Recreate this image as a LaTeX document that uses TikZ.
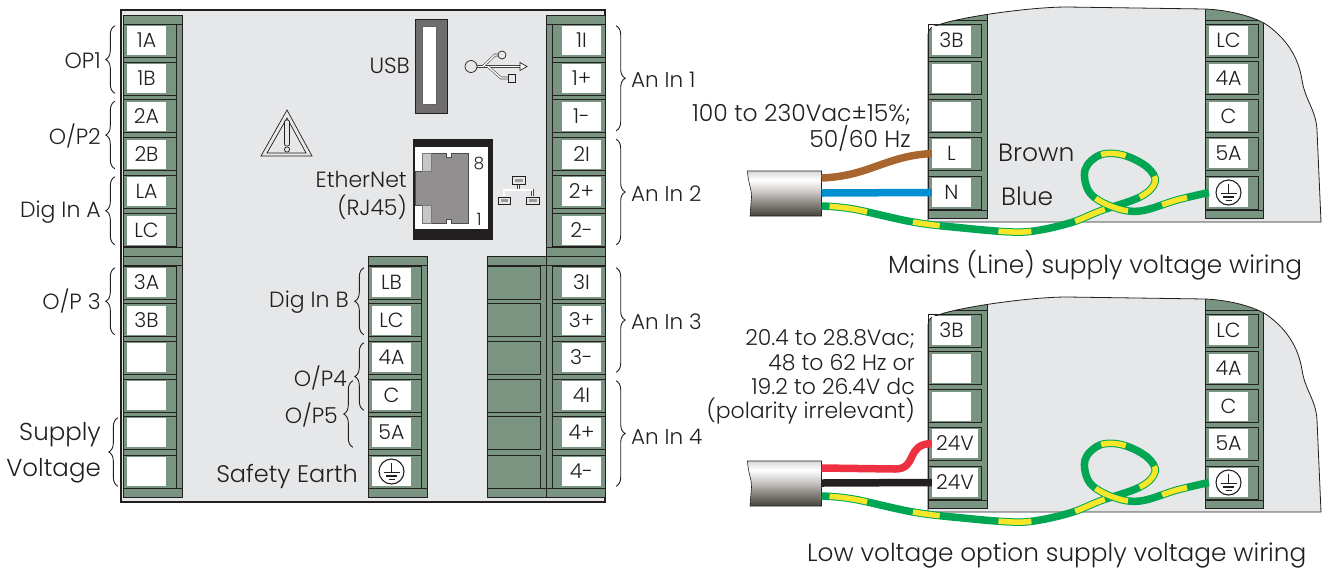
\documentclass[tikz,border=0pt]{standalone}
\usepackage{fontspec}
\setmainfont{Poppins}[UprightFont=* Light]
\usepackage{xcolor}
\usetikzlibrary{decorations.pathreplacing}

\definecolor{ink}{HTML}{231F20}
\definecolor{panelgray}{HTML}{E6E7E8}
\definecolor{stripgreen}{HTML}{7A9482}
\definecolor{wiregreen}{HTML}{00A651}
\definecolor{wireyellow}{HTML}{F7E62A}
\definecolor{wirebrown}{HTML}{A8652E}
\definecolor{wireblue}{HTML}{0090D2}
\definecolor{wirered}{HTML}{EE3142}
\pgfdeclareverticalshading{sheathshade}{100bp}{rgb(0bp)=(.27,.26,.23); rgb(25bp)=(.27,.26,.23); rgb(40bp)=(.55,.54,.51); rgb(52bp)=(.8,.79,.78); rgb(65bp)=(1,1,1); rgb(75bp)=(.85,.85,.85); rgb(100bp)=(.85,.85,.85)}

\tikzset{
  stripbar/.style={draw=ink,fill=stripgreen,line width=.8pt},
  cellbox/.style={draw=ink,line width=.8pt,minimum width=53pt,minimum height=33pt,inner sep=0pt},
  termlabel/.style={fill=white,text=ink,minimum width=39pt,minimum height=29pt,inner sep=0pt,text height=14.5pt,text depth=0pt,font=\fontsize{20.5}{24}\selectfont},
  sidelabel/.style={anchor=east,text=ink,inner sep=0pt,align=right,font=\fontsize{22}{25}\selectfont},
  anlabel/.style={anchor=west,text=ink,inner sep=0pt,font=\fontsize{21.5}{24}\selectfont},
  captionlabel/.style={anchor=west,text=ink,inner sep=0pt,font=\fontsize{24.8}{28}\selectfont},
  bracel/.style={draw=ink,line width=.9pt,decorate,decoration={brace,amplitude=9pt}},
  wire/.style={line width=7.5pt},
  earthwire/.style={draw=wiregreen,line width=7.5pt,postaction={draw=wireyellow,line width=5.5pt,dash pattern=on 0pt off 8pt on 38pt off 47pt on 27pt off 59pt on 33pt off 45pt on 32pt off 37pt on 28pt off 36pt on 25pt off 55pt on 35pt off 35pt on 26pt off 200pt}},
  iconline/.style={draw=ink!85,line width=.6pt,double=white,double distance=1.4pt},
  earthmark/.pic={
    \draw[ink,line width=1.1pt] (0,0) circle (12.5);
    \draw[ink,line width=1.1pt] (0,-9) -- (0,1);
    \draw[ink,line width=1.1pt] (-8,1) -- (8,1);
    \draw[ink,line width=1.1pt] (-5.5,4.5) -- (5.5,4.5);
    \draw[ink,line width=1.1pt] (-3,8) -- (3,8);
  }
}

\newcommand{\termstrip}[3]{%
  \draw[stripbar] (#1,#2) rectangle ({#1+59},{#2+241});
  \draw[stripbar] (#1,#2) rectangle ({#1+59},{#2+9});
  \draw[stripbar] (#1,{#2+232}) rectangle ({#1+59},{#2+241});
  \draw[ink,line width=.8pt] (#3,{#2+9}) -- (#3,{#2+232});
}
\newcommand{\leftcell}[4]{%
  \node[cellbox] (#1box) at ({#2+26.5},#3) {};
  \node[termlabel] (#1) at ({#2+23.5},#3) {#4};
}
\newcommand{\rightcell}[4]{%
  \node[cellbox] (#1box) at ({#2+32.5},#3) {};
  \node[termlabel] (#1) at ({#2+35.5},#3) {#4};
}
\newcommand{\panelshape}{(928,222) -- (928,35) .. controls (928,29) and (932,26) .. (938,25) .. controls (960,17) and (1030,7) .. (1067,7) -- (1205,9) .. controls (1230,10) and (1255,17) .. (1267,25) .. controls (1285,38) and (1298,55) .. (1302,80) .. controls (1305,100) and (1316,110) .. (1317,130) -- (1321,222) -- cycle}
\newcommand{\supplypanel}{%
  \fill[panelgray] \panelshape;
  \begin{scope}
    \clip \panelshape;
    \draw[stripbar] (928,0) rectangle (987,218);
    \draw[stripbar] (928,210) rectangle (987,218);
    \draw[stripbar] (1205,0) rectangle (1263,218);
    \draw[stripbar] (1205,210) rectangle (1263,218);
    \draw[ink,line width=.8pt] (928,20) -- (987,20);
    \draw[ink,line width=.8pt] (1205,20) -- (1263,20);
  \end{scope}
  \draw[ink,line width=.8pt] \panelshape;
  \leftcell{t3B}{928}{40.5}{3B}
  \leftcell{tblank1}{928}{78}{}
  \leftcell{tblank2}{928}{116}{}
  \leftcell{tLC}{1205}{40.5}{LC}
  \leftcell{t4A}{1205}{78}{4A}
  \leftcell{tC}{1205}{116}{C}
  \leftcell{t5A}{1205}{153.5}{5A}
  \leftcell{tearth}{1205}{192.5}{}
  \pic at (tearth) {earthmark};
}
\newcommand{\cablesheath}{%
  \shade[shading=sheathshade,draw=ink,line width=.6pt] (747.5,171) .. controls (748,183) and (752,190) .. (751.5,197) -- (750,216) -- (821.5,216) -- (821.5,171) -- cycle;
  \coordinate (cabletop) at (821.5,178);
  \coordinate (cablemid) at (821.5,193);
  \coordinate (cableearth) at (821.5,206);
}
\newcommand{\earthrun}{%
  \draw[earthwire] plot[smooth,tension=.6] coordinates {(cableearth) (853,209) (913,222) (963,228) (1013,232) (1040,230) (1073,222) (1100,211) (1140,197) (1155,182) (1147,167) (1123,155) (1100,155) (1085,170) (1090,193) (1113,207) (1140,211) (1177,200) (tearth.west)};
}

\begin{document}
\begin{tikzpicture}[x=1pt,y=-1pt]
  \useasboundingbox (0,0) rectangle (1327,574);

  % main unit
  \draw[fill=panelgray,draw=ink,line width=1.2pt] (121,10) rectangle (605,502);
  \termstrip{123}{15}{176}
  \termstrip{123}{256}{176}
  \termstrip{368}{256}{421.7}
  \termstrip{487}{256}{546}
  \termstrip{546}{256}{552}
  \termstrip{546}{15}{552}

  \leftcell{t1A}{123}{40.5}{1A}
  \leftcell{t1B}{123}{78.5}{1B}
  \leftcell{t2A}{123}{116}{2A}
  \leftcell{t2B}{123}{154}{2B}
  \leftcell{tLA}{123}{191.5}{LA}
  \leftcell{tLCa}{123}{230}{LC}

  \leftcell{t3A}{123}{282.5}{3A}
  \leftcell{t3B}{123}{320}{3B}
  \leftcell{tsup1}{123}{357.5}{}
  \leftcell{tsup2}{123}{395.5}{}
  \leftcell{tsup3}{123}{432.5}{}
  \leftcell{tsup4}{123}{471.5}{}

  \leftcell{tLB}{368}{282.5}{LB}
  \leftcell{tLCb}{368}{320}{LC}
  \leftcell{t4A}{368}{357.5}{4A}
  \leftcell{tC}{368}{395.5}{C}
  \leftcell{t5A}{368}{432.5}{5A}
  \leftcell{tsafe}{368}{471.5}{}
  \pic at (tsafe) {earthmark};

  \node[cellbox] (dummy1) at (514,282.5) {};
  \node[cellbox] (dummy2) at (514,320) {};
  \node[cellbox] (dummy3) at (514,357.5) {};
  \node[cellbox] (dummy4) at (514,395.5) {};
  \node[cellbox] (dummy5) at (514,432.5) {};
  \node[cellbox] (dummy6) at (514,471.5) {};

  \rightcell{t1I}{546}{40.5}{1I}
  \rightcell{t1p}{546}{78.5}{1+}
  \rightcell{t1m}{546}{116}{1-}
  \rightcell{t2I}{546}{154}{2I}
  \rightcell{t2p}{546}{191.5}{2+}
  \rightcell{t2m}{546}{230}{2-}
  \rightcell{t3I}{546}{282.5}{3I}
  \rightcell{t3p}{546}{320}{3+}
  \rightcell{t3m}{546}{357.5}{3-}
  \rightcell{t4I}{546}{395.5}{4I}
  \rightcell{t4p}{546}{432.5}{4+}
  \rightcell{t4m}{546}{471.5}{4-}

  % usb socket and icon
  \draw[fill=ink!65,draw=ink,line width=.8pt] (415,19) rectangle (447,113);
  \draw[fill=white,draw=ink!70] (422,26) rectangle (436,104);
  \draw[iconline] (477,66.5) -- (520,66.5);
  \draw[iconline] (483,66.5) -- (495,55) -- (498,55);
  \draw[iconline] (488,66.5) -- (501,78) -- (508,78);
  \draw[ink,line width=.7pt] (471,66.5) circle (6);
  \draw[ink,line width=.7pt] (502,55) circle (4);
  \draw[ink,line width=.7pt] (508,74.5) rectangle (515,82);
  \draw[ink,line width=.7pt,fill=white] (520,62.5) -- (527,66.5) -- (520,70.5) -- cycle;

  % ethernet socket and icon
  \fill[ink] (413,139) rectangle (493,240);
  \fill[white] (415,147) rectangle (488,229);
  \draw[fill=ink!50,draw=ink!80,line width=.6pt] (431,153) -- (446,153) -- (446,157) -- (451,157) -- (451,153) -- (468,153) -- (468,223) -- (451,223) -- (451,219) -- (446,219) -- (446,223) -- (431,223) -- (431,205) -- (415,205) -- (415,171) -- (431,171) -- cycle;
  \draw[fill=ink!25,draw=ink!60,line width=.5pt] (422,153) rectangle (431,171);
  \draw[fill=ink!25,draw=ink!60,line width=.5pt] (422,205) rectangle (431,223);
  \node[anchor=center,text=ink,inner sep=0pt,font=\fontsize{17}{18}\selectfont] (pin8) at (479,163) {8};
  \node[anchor=center,text=ink,inner sep=0pt,font=\fontsize{17}{18}\selectfont] (pin1) at (479,219) {1};
  \draw[iconline] (518.5,184) -- (518.5,190);
  \draw[iconline] (504,196) -- (504,190) -- (532.5,190) -- (532.5,196);
  \draw[ink,line width=.7pt,fill=panelgray] (512,176) rectangle (525,184);
  \draw[ink,line width=.7pt,fill=panelgray] (498,197) rectangle (510,204);
  \draw[ink,line width=.7pt,fill=panelgray] (526,197) rectangle (539,204);
  \fill[ink!45] (514.5,178.5) rectangle (522.5,181.5);
  \fill[ink!45] (500.5,199) rectangle (507.5,202);
  \fill[ink!45] (528.5,199) rectangle (536.5,202);

  % warning triangle
  \draw[ink,line width=.7pt] (287,110) -- (261,156) -- (312,156) -- cycle;
  \draw[ink,line width=.7pt] (287,118) -- (267,153) -- (306,153) -- cycle;
  \draw[ink,line width=.7pt,fill=panelgray,rounded corners=2pt] (284.5,120) rectangle (289.5,146);
  \draw[ink,line width=.7pt,fill=panelgray] (287,149.5) circle (2.6);

  % left side labels and braces
  \draw[bracel] ([xshift=-12pt]t1B.south west) -- ([xshift=-12pt]t1A.north west);
  \draw[bracel] ([xshift=-12pt]t2B.south west) -- ([xshift=-12pt]t2A.north west);
  \draw[bracel] ([xshift=-12pt]tLCa.south west) -- ([xshift=-12pt]tLA.north west);
  \draw[bracel] ([xshift=-12pt]t3B.south west) -- ([xshift=-12pt]t3A.north west);
  \draw[bracel] ([xshift=-9pt]tsup4.south west) -- ([xshift=-9pt]tsup3.north west);
  \draw[bracel] ([xshift=-8pt]tLCb.south west) -- ([xshift=-8pt]tLB.north west);
  \draw[bracel] ([xshift=-8pt]tC.south west) -- ([xshift=-8pt]t4A.north west);
  \draw[bracel] ([xshift=-19pt]t5A.south west) -- ([xshift=-19pt]tC.north west);
  \node[sidelabel] (op1) at (101,60.5) {OP1};
  \node[sidelabel] (op2) at (101,136) {O/P2};
  \node[sidelabel] (digina) at (101,212) {Dig In A};
  \node[sidelabel] (op3) at (101,301) {O/P 3};
  \node[sidelabel,font=\fontsize{24.5}{36}\selectfont] (supply) at (101,452.5) {Supply\\Voltage};
  \node[sidelabel] (diginb) at (349,302) {Dig In B};
  \node[sidelabel] (op4) at (347,378) {O/P4};
  \node[sidelabel] (op5) at (338,415) {O/P5};
  \node[sidelabel,font=\fontsize{24}{28}\selectfont] (safety) at (358,476) {Safety Earth};
  \node[sidelabel] (usb) at (410,66) {USB};
  \node[sidelabel,font=\fontsize{22}{28}\selectfont] (ether) at (407,195) {EtherNet\\(RJ45)};

  % right side labels and braces
  \draw[bracel] ([xshift=15pt]t1I.north east) -- ([xshift=15pt]t1m.south east);
  \draw[bracel] ([xshift=15pt]t2I.north east) -- ([xshift=15pt]t2m.south east);
  \draw[bracel] ([xshift=15pt]t3I.north east) -- ([xshift=15pt]t3m.south east);
  \draw[bracel] ([xshift=15pt]t4I.north east) -- ([xshift=15pt]t4m.south east);
  \node[anlabel] (anin1) at (631,80) {An In 1};
  \node[anlabel] (anin2) at (631,194) {An In 2};
  \node[anlabel] (anin3) at (631,322) {An In 3};
  \node[anlabel] (anin4) at (631,437) {An In 4};

  % mains panel
  \begin{scope}[name prefix=mains-]
    \supplypanel
    \leftcell{tblank3}{928}{153.5}{L}
    \leftcell{tblank4}{928}{192.5}{N}
    \cablesheath
    \draw[wire,wirebrown] (cabletop) .. controls (870,176) and (885,156) .. (tblank3.west);
    \draw[wire,wireblue] (cablemid) -- (tblank4.west);
    \earthrun
  \end{scope}
  \node[sidelabel,font=\fontsize{23.5}{23}\selectfont] (mainsspec) at (911,128) {100 to 230Vac±15\%;\\50/60 Hz};
  \node[anlabel,font=\fontsize{25}{28}\selectfont] (brown) at (998,153) {Brown};
  \node[anlabel,font=\fontsize{25}{28}\selectfont] (blue) at (1001,196) {Blue};
  \node[captionlabel] (mainscap) at (888,265) {Mains (Line) supply voltage wiring};

  % low voltage panel
  \begin{scope}[shift={(0,290)},name prefix=low-]
    \supplypanel
    \node[cellbox] (tv1box) at (954.5,153.5) {};
    \node[termlabel,minimum width=46pt] (tv1) at (955,153.5) {24V};
    \node[cellbox] (tv2box) at (954.5,192.5) {};
    \node[termlabel,minimum width=46pt] (tv2) at (955,192.5) {24V};
    \cablesheath
    \draw[wire,wirered] (cabletop) -- (895,179) .. controls (918,179) and (905,154) .. (tv1.west);
    \draw[wire,ink] (cablemid) -- (tv2.west);
    \earthrun
  \end{scope}
  \node[sidelabel,font=\fontsize{22}{24.3}\selectfont] (lowspec) at (915,377) {20.4 to 28.8Vac;\\48 to 62 Hz or\\19.2 to 26.4V dc\\(polarity irrelevant)};
  \node[captionlabel] (lowcap) at (807,555) {Low voltage option supply voltage wiring};
\end{tikzpicture}
\end{document}
